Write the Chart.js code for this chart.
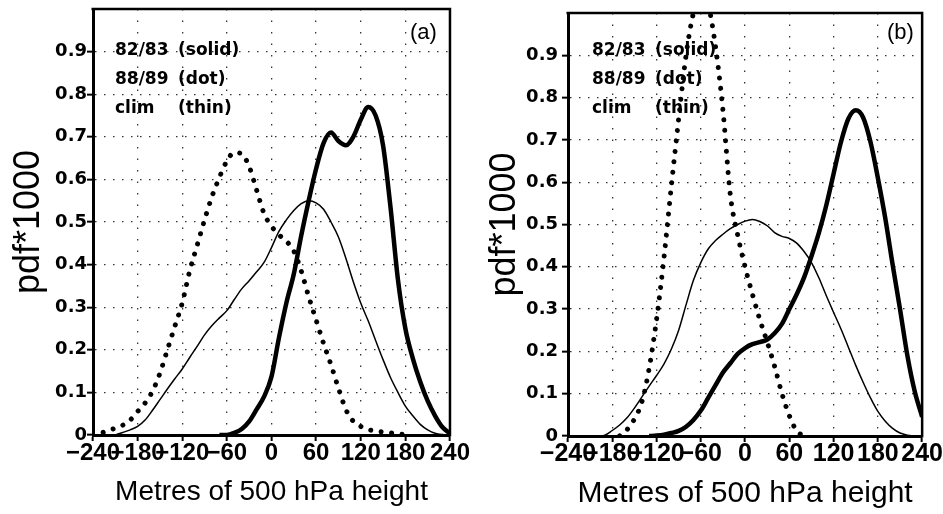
<!DOCTYPE html>
<html>
<head>
<meta charset="utf-8">
<script src="https://cdn.jsdelivr.net/npm/chart.js@4.4.0/dist/chart.umd.min.js"></script>
<style>
  html, body { margin: 0; padding: 0; background: #fff; }
  #wrap { position: relative; width: 943px; height: 514px; }
  .panel { position: absolute; top: 0; height: 514px; }
  #panelA { left: 0; width: 470px; }
  #panelB { left: 470px; width: 473px; }
</style>
</head>
<body>
<div id="wrap">
  <div class="panel" id="panelA"><canvas id="chartA"></canvas></div>
  <div class="panel" id="panelB"><canvas id="chartB"></canvas></div>
</div>
<script>
// metres of 500 hPa height anomaly (x), pdf*1000 (y)
const heights = [-240, -230, -220, -210, -200, -190, -180, -170, -160, -150, -140, -130, -120,
  -110, -100, -90, -80, -70, -60, -50, -40, -30, -20, -10, 0, 10, 20, 30, 40, 50, 60, 70, 80,
  90, 100, 110, 120, 130, 140, 150, 160, 170, 180, 190, 200, 210, 220, 230, 240];

// panel (a)
const solidA = [null, null, null, null, null, null, null, null, null, null, null, null, null,
  null, null, null, null, 0, 0, 0.005, 0.014, 0.032, 0.06, 0.09, 0.137, 0.228, 0.31, 0.378,
  0.468, 0.55, 0.625, 0.685, 0.71, 0.69, 0.68, 0.70, 0.74, 0.77, 0.75, 0.68, 0.535, 0.365,
  0.25, 0.18, 0.125, 0.08, 0.045, 0.018, 0.004];
const dotA = [0, 0.004, 0.01, 0.016, 0.023, 0.035, 0.055, 0.075, 0.103, 0.145, 0.2, 0.255,
  0.31, 0.385, 0.445, 0.505, 0.56, 0.605, 0.643, 0.663, 0.66, 0.63, 0.575, 0.52, 0.49, 0.47,
  0.455, 0.432, 0.385, 0.325, 0.27, 0.215, 0.165, 0.11, 0.06, 0.032, 0.02, 0.013, 0.009,
  0.007, 0.005, 0.003, 0.001, null, null, null, null, null, null];
const thinA = [null, null, null, 0, 0.006, 0.012, 0.02, 0.035, 0.058, 0.083, 0.108, 0.132,
  0.155, 0.182, 0.208, 0.235, 0.257, 0.275, 0.292, 0.318, 0.343, 0.362, 0.383, 0.405, 0.44,
  0.478, 0.505, 0.527, 0.543, 0.55, 0.545, 0.53, 0.5, 0.465, 0.415, 0.36, 0.31, 0.268, 0.222,
  0.177, 0.135, 0.1, 0.068, 0.045, 0.025, 0.012, 0.004, 0.001, 0];

// panel (b)
const solidB = [null, null, null, null, null, null, null, null, null, null, null, 0, 0.001,
  0.003, 0.007, 0.012, 0.022, 0.038, 0.06, 0.09, 0.12, 0.15, 0.172, 0.194, 0.208, 0.217,
  0.222, 0.228, 0.243, 0.265, 0.3, 0.335, 0.375, 0.425, 0.48, 0.545, 0.62, 0.695, 0.75, 0.77,
  0.753, 0.695, 0.61, 0.515, 0.405, 0.3, 0.19, 0.105, 0.045];
const dotB = [null, null, null, null, null, null, null, 0, 0.015, 0.04, 0.08, 0.16, 0.275,
  0.42, 0.59, 0.75, 0.9, 1.0, 1.05, 1.02, 0.92, 0.77, 0.57, 0.475, 0.4, 0.335, 0.275, 0.222,
  0.165, 0.1, 0.048, 0.012, 0, null, null, null, null, null, null, null, null, null, null,
  null, null, null, null, null, null];
const thinB = [null, null, null, null, 0, 0.002, 0.013, 0.026, 0.043, 0.066, 0.092, 0.118,
  0.143, 0.17, 0.205, 0.25, 0.31, 0.368, 0.41, 0.442, 0.462, 0.477, 0.49, 0.5, 0.508, 0.512,
  0.507, 0.497, 0.481, 0.472, 0.467, 0.456, 0.436, 0.41, 0.374, 0.332, 0.292, 0.253, 0.21,
  0.167, 0.127, 0.09, 0.058, 0.035, 0.018, 0.007, 0.002, 0, 0];

const legendNames = ["82/83", "88/89", "clim"];
const legendStyles = ["(solid)", "(dot)", "(thin)"];
const xTitle = "Metres of 500 hPa height";
const yTitle = "pdf*1000";

function toPoints(values) {
  return heights.map((h, i) => ({ x: h, y: values[i] }));
}

function makeDatasets(solid, dot, thin) {
  return [
    {
      label: "82/83",
      data: toPoints(solid),
      borderColor: "#000",
      borderWidth: 4.5,
      cubicInterpolationMode: "monotone",
      pointRadius: 0,
      spanGaps: false,
    },
    {
      label: "88/89",
      data: toPoints(dot),
      borderColor: "#000",
      borderWidth: 5,
      borderDash: [0.01, 10.5],
      borderCapStyle: "round",
      cubicInterpolationMode: "monotone",
      pointRadius: 0,
    },
    {
      label: "clim",
      data: toPoints(thin),
      borderColor: "#000",
      borderWidth: 1.5,
      cubicInterpolationMode: "monotone",
      pointRadius: 0,
    },
  ];
}

const panelText = {
  id: "panelText",
  afterDraw(chart, args, o) {
    const { ctx, chartArea: a } = chart;
    ctx.save();
    // top and right frame
    ctx.strokeStyle = "#000";
    ctx.lineWidth = 2.5;
    ctx.beginPath();
    ctx.moveTo(a.left - 1.5, a.top);
    ctx.lineTo(a.right, a.top);
    ctx.lineTo(a.right, a.bottom + 1.5);
    ctx.stroke();
    ctx.fillStyle = "#000";
    ctx.font = 'bold 17px "DejaVu Sans"';
    ctx.textBaseline = "alphabetic";
    ctx.textAlign = "left";
    for (let i = 0; i < legendNames.length; i++) {
      ctx.fillText(legendNames[i], o.col1, o.rows[i]);
      ctx.fillText(legendStyles[i], o.col2, o.rows[i]);
    }
    ctx.font = '22px "Liberation Sans"';
    ctx.textBaseline = "middle";
    ctx.fillText(o.tag, o.tagX, o.tagY);
    ctx.restore();
  },
};

function makeChart(id, datasets, geo) {
  const ctx = document.getElementById(id).getContext("2d");
  return new Chart(ctx, {
    type: "line",
    data: { datasets: datasets },
    plugins: [panelText],
    options: {
      responsive: true,
      maintainAspectRatio: false,
      animation: false,
      layout: { padding: { left: 0, right: geo.padRight, top: geo.padTop, bottom: 0 } },
      plugins: {
        legend: { display: false },
        tooltip: { enabled: false },
        panelText: geo.text,
      },
      scales: {
        x: {
          type: "linear",
          min: -240,
          max: 240,
          afterFit: (scale) => {
            scale.height = geo.xHeight;
          },
          ticks: {
            stepSize: 60,
            autoSkip: false,
            maxRotation: 0,
            padding: 0,
            color: "#000",
            font: { family: '"Liberation Sans Narrow", "Liberation Sans"', weight: "bold", size: geo.xTickSize, lineHeight: 1 },
            callback: (v) => (v < 0 ? "\u2212" + Math.abs(v) : String(v)),
          },
          grid: {
            color: "#333",
            lineWidth: 1.3,
            tickLength: 6,
            tickWidth: 2,
            tickColor: "#000",
          },
          border: { display: true, color: "#000", width: 3, dash: [1.5, 10] },
          title: {
            display: true,
            text: xTitle,
            color: "#000",
            font: { family: '"Liberation Sans"', size: geo.xTitleSize },
            padding: { top: 0, bottom: geo.xTitlePad },
          },
        },
        y: {
          min: 0,
          max: 1,
          afterFit: (scale) => {
            scale.width = geo.yWidth;
          },
          ticks: {
            stepSize: 0.1,
            padding: geo.yTickPad,
            color: "#000",
            font: { family: '"DejaVu Sans"', weight: "bold", size: 18, lineHeight: 1 },
            callback: (v) => (v > 0.95 ? "" : v === 0 ? "0" : v.toFixed(1)),
          },
          grid: {
            color: (c) => (c.tick && c.tick.value > 0.95 ? "rgba(0,0,0,0)" : "#333"),
            lineWidth: 1.3,
            tickLength: 6,
            tickWidth: 2,
            tickColor: (c) => (c.tick && c.tick.value > 0.95 ? "rgba(0,0,0,0)" : "#000"),
          },
          border: { display: true, color: "#000", width: 3, dash: [1.5, 7.5] },
          title: {
            display: true,
            text: yTitle,
            color: "#000",
            font: { family: '"Liberation Sans"', size: 36 },
            padding: { top: geo.yTitlePad, bottom: 0 },
          },
        },
      },
    },
  });
}

document.addEventListener("DOMContentLoaded", () => {
  makeChart("chartA", makeDatasets(solidA, dotA, thinA), {
    padRight: 20, padTop: 9, xHeight: 79, yWidth: 93, yTickPad: 0,
    xTickSize: 24, xTitleSize: 28, xTitlePad: 5, yTitlePad: 7,
    text: { col1: 115, col2: 178, rows: [55, 84, 113], tag: "(a)", tagX: 410, tagY: 33 },
  });
  makeChart("chartB", makeDatasets(solidB, dotB, thinB), {
    padRight: 19, padTop: 9, xHeight: 78, yWidth: 98, yTickPad: 4,
    xTickSize: 25, xTitleSize: 30, xTitlePad: 2, yTitlePad: 13,
    text: { col1: 122, col2: 185, rows: [55, 84, 113], tag: "(b)", tagX: 417, tagY: 33 },
  });
});
</script>
</body>
</html>
